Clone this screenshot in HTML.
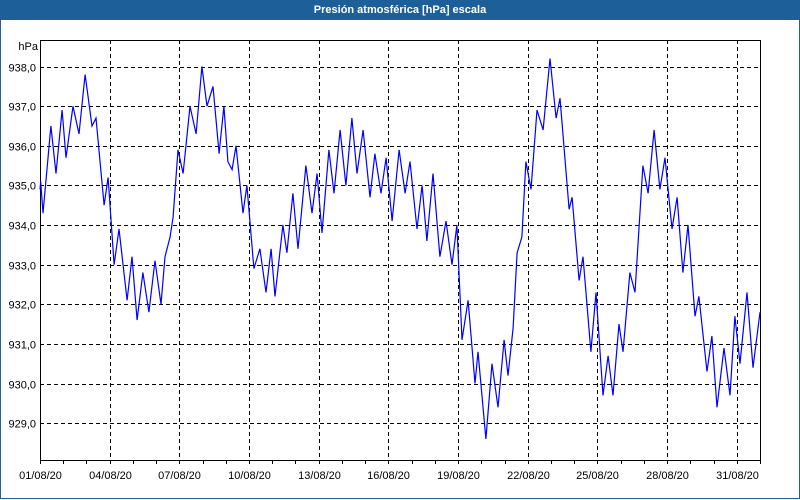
<!DOCTYPE html>
<html><head><meta charset="utf-8"><style>
html,body{margin:0;padding:0;width:800px;height:500px;overflow:hidden;background:#fff}
#win{position:absolute;left:0;top:0;width:798px;height:498px;border:1px solid #1d5f98;border-top:none;background:#fff}
#title{position:absolute;left:0;top:0;width:800px;height:20px;background:#1d5f98;color:#fff;font:bold 11px "Liberation Sans",sans-serif;text-align:center;line-height:20px}
svg{position:absolute;left:0;top:0}
text{font-family:"Liberation Sans",sans-serif;font-size:11px;fill:#000}
</style></head><body>
<div id="win"></div>
<div id="title">Presión atmosférica [hPa] escala</div>
<svg id="chart" width="800" height="500"></svg>
<script>
const times=[0,0.03,0.13,0.47,0.69,0.95,1.12,1.42,1.68,1.94,2.24,2.41,2.76,2.93,3.19,3.40,3.75,3.96,4.18,4.43,4.69,4.95,5.21,5.38,5.60,5.73,5.94,6.16,6.46,6.72,6.97,7.19,7.45,7.71,7.92,8.09,8.27,8.44,8.74,8.91,9.21,9.47,9.73,9.95,10.12,10.46,10.63,10.89,11.11,11.45,11.71,11.93,12.14,12.44,12.66,12.92,13.17,13.43,13.65,13.91,14.21,14.42,14.68,14.90,15.16,15.46,15.72,15.93,16.23,16.45,16.66,16.92,17.22,17.48,17.74,17.95,18.04,18.17,18.43,18.73,18.86,19.20,19.46,19.72,19.98,20.15,20.37,20.54,20.75,20.92,21.14,21.40,21.66,21.96,22.22,22.39,22.78,22.91,23.21,23.38,23.72,23.94,24.24,24.46,24.67,24.93,25.10,25.40,25.62,25.96,26.18,26.44,26.69,26.91,27.21,27.43,27.68,27.90,28.20,28.37,28.72,28.93,29.15,29.45,29.71,29.92,30.14,30.44,30.70,31.0];
const pressure=[934.9,935.1,934.3,936.5,935.3,936.9,935.7,937.0,936.3,937.8,936.5,936.7,934.5,935.2,933.0,933.9,932.1,933.2,931.6,932.8,931.8,933.1,932.0,933.2,933.7,934.2,935.9,935.3,937.0,936.3,938.0,937.0,937.5,935.8,937.0,935.6,935.4,936.0,934.3,935.0,932.9,933.4,932.3,933.4,932.2,934.0,933.3,934.8,933.4,935.5,934.3,935.3,933.8,935.9,934.8,936.4,935.0,936.7,935.3,936.4,934.7,935.8,934.8,935.7,934.1,935.9,934.8,935.6,933.9,935.0,933.6,935.3,933.2,934.1,933.0,934.0,932.8,931.1,932.1,930.0,930.8,928.6,930.5,929.4,931.1,930.2,931.4,933.3,933.7,935.6,934.9,936.9,936.4,938.2,936.7,937.2,934.4,934.7,932.6,933.2,930.8,932.3,929.7,930.7,929.7,931.5,930.8,932.8,932.3,935.5,934.8,936.4,934.9,935.7,933.9,934.7,932.8,934.0,931.7,932.2,930.3,931.2,929.4,930.9,929.7,931.7,930.5,932.3,930.4,931.8];
const yTicks=[938,937,936,935,934,933,932,931,930,929];
const xTickDays=[0,3,6,9,12,15,18,21,24,27,30];
const xTickLabels=["01/08/20","04/08/20","07/08/20","10/08/20","13/08/20","16/08/20","19/08/20","22/08/20","25/08/20","28/08/20","31/08/20"];
const L=40,R=760,T=40,B=460,D0=0,D1=31,Y0=928.07,Y1=938.67;
const xs=d=>L+(d-D0)/(D1-D0)*(R-L);
const ys=v=>B-(v-Y0)/(Y1-Y0)*(B-T);
const svg=document.getElementById('chart');const NS='http://www.w3.org/2000/svg';
function mk(tag,at){const e=document.createElementNS(NS,tag);for(const k in at)e.setAttribute(k,at[k]);svg.appendChild(e);return e;}
yTicks.forEach(v=>{const y=Math.round(ys(v))+0.5;
 const g=mk('line',{x1:L,x2:R,y1:y,y2:y,stroke:'#000','stroke-dasharray':'4,3','stroke-width':1});
 
 
 const t=mk('text',{x:36,y:y+4,'text-anchor':'end'});t.textContent=v.toFixed(1).replace('.',',');
 
 
});
for(let d=0;d<=31;d++){const x=Math.round(xs(d))+0.5;
 const k=mk('line',{x1:x,x2:x,y1:B,y2:B+4,stroke:'#000'});
 
 
}
xTickDays.forEach((d,i)=>{const x=Math.round(xs(d))+0.5;
 if(d>0){const g=mk('line',{x1:x,x2:x,y1:T,y2:B,stroke:'#000','stroke-dasharray':'4,3'});
 
 }
 const t=mk('text',{x:x,y:479,'text-anchor':'middle'});t.textContent=xTickLabels[i];
 
 
});
const u=mk('text',{x:38,y:50,'text-anchor':'end'});u.textContent='hPa';


const f=mk('rect',{x:L+0.5,y:T+0.5,width:R-L,height:B-T,fill:'none',stroke:'#000'});


const p=mk('polyline',{points:times.map((d,i)=>xs(d).toFixed(1)+','+ys(pressure[i]).toFixed(1)).join(' '),fill:'none',stroke:'#0000ff','stroke-width':1.2});


</script>
</body></html>
